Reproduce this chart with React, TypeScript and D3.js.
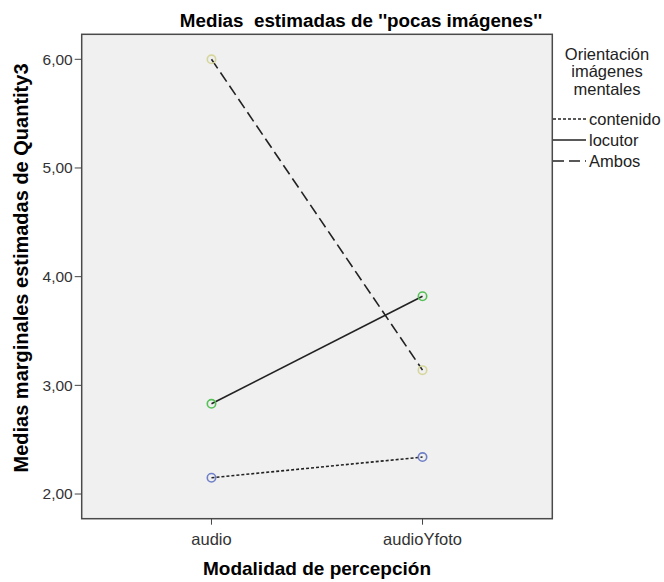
import React from "react";
import * as d3 from "d3";

const categories = ["audio", "audioYfoto"];
const seriesNames = ["contenido", "locutor", "Ambos"];
const contenido = [2.15, 2.34];
const locutor = [2.83, 3.82];
const ambos = [6.0, 3.14];
const yTicks = [2, 3, 4, 5, 6];

const W = 664;
const H = 582;
const left = 81.7, right = 552.3, top = 34.3, bottom = 518.7;

export default function App() {
  const x = d3.scalePoint<string>().domain(categories).range([left, right]).padding(0.615);
  const y = d3.scaleLinear().domain([1.773, 6.23]).range([bottom, top]);
  const fmt = (v: number) => v.toFixed(2).replace(".", ",");
  const series = [
    { name: seriesNames[0], values: contenido, dash: "3,2", color: "#7080c8" },
    { name: seriesNames[1], values: locutor, dash: "", color: "#55c055" },
    { name: seriesNames[2], values: ambos, dash: "11,5", color: "#d6d69c" },
  ];
  const line = d3.line<number>().x((_, i) => x(categories[i])!).y((d) => y(d));
  const font = "'Liberation Sans', Arial, sans-serif";
  return (
    <svg width={W} height={H} style={{ position: "absolute", left: 0, top: 0 }} fontFamily={font}>
      <rect x={0} y={0} width={W} height={H} fill="#fff" />
      <text x={361} y={27} textAnchor="middle" fontWeight="bold" fontSize={18.8} style={{ whiteSpace: "pre" }}>
        {"Medias  estimadas de ''pocas imágenes''"}
      </text>
      <rect x={left} y={top} width={right - left} height={bottom - top} fill="#f0f0f0" stroke="#4a4a4a" strokeWidth={1.5} />
      {yTicks.map((t) => (
        <g key={t}>
          <line x1={left - 7} x2={left} y1={y(t)} y2={y(t)} stroke="#444" strokeWidth={1} />
          <text x={left - 9} y={y(t)} dy="0.35em" textAnchor="end" fontSize={15.5} fill="#333">
            {fmt(t)}
          </text>
        </g>
      ))}
      {categories.map((c) => (
        <g key={c}>
          <line x1={x(c)} x2={x(c)} y1={bottom} y2={bottom + 6} stroke="#444" strokeWidth={1} />
          <text x={x(c)} y={545} textAnchor="middle" fontSize={16.5} fill="#333">
            {c}
          </text>
        </g>
      ))}
      <text x={317} y={575} textAnchor="middle" fontWeight="bold" fontSize={19}>
        Modalidad de percepción
      </text>
      <text transform={`translate(21,268) rotate(-90)`} textAnchor="middle" fontWeight="bold" fontSize={20} dy="0.35em">
        Medias marginales estimadas de Quantity3
      </text>
      {series.map((s) => (
        <g key={s.name}>
          <path d={line(s.values)!} fill="none" stroke="#222" strokeWidth={1.6} strokeDasharray={s.dash || undefined} />
          {s.values.map((v, i) => (
            <circle key={i} cx={x(categories[i])} cy={y(v)} r={4.2} fill="none" stroke={s.color} strokeWidth={1.6} />
          ))}
        </g>
      ))}
      <g fontSize={16.5} fill="#222">
        <text x={607} y={60} textAnchor="middle">Orientación</text>
        <text x={607} y={77} textAnchor="middle">imágenes</text>
        <text x={607} y={95} textAnchor="middle">mentales</text>
        {series.map((s, i) => (
          <g key={s.name}>
            <line x1={553} x2={586} y1={119 + i * 21} y2={119 + i * 21} stroke="#222" strokeWidth={1.6} strokeDasharray={s.dash || undefined} />
            <text x={589} y={119 + i * 21} dy="0.35em">{s.name}</text>
          </g>
        ))}
      </g>
    </svg>
  );
}
